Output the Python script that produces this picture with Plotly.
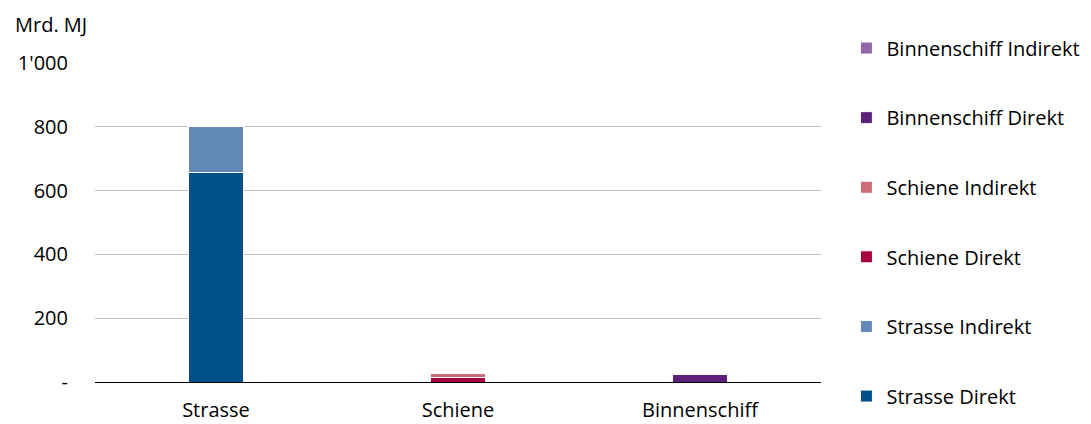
import plotly.graph_objects as go

# Categories and stacked series (Mrd. MJ)
categories = ["Strasse", "Schiene", "Binnenschiff"]
series_names = [
    "Strasse Direkt", "Strasse Indirekt",
    "Schiene Direkt", "Schiene Indirekt",
    "Binnenschiff Direkt", "Binnenschiff Indirekt",
]
strasse_direkt = [658, None, None]
strasse_indirekt = [142, None, None]
schiene_direkt = [None, 14, None]
schiene_indirekt = [None, 14, None]
binnenschiff_direkt = [None, None, 22]
binnenschiff_indirekt = [None, None, 6]

tick_values = [0, 200, 400, 600, 800, 1000]
tick_labels = ["-", "200", "400", "600", "800", "1'000"]

series_values = [
    strasse_direkt, strasse_indirekt,
    schiene_direkt, schiene_indirekt,
    binnenschiff_direkt, binnenschiff_indirekt,
]
colors = ["#004f88", "#6389b9", "#a8003e", "#cd6b76", "#5c2078", "#9167aa"]

FONT = "Open Sans"
SIZE = 20

fig = go.Figure()
n = len(series_names)
for i, (name, vals, col) in enumerate(zip(series_names, series_values, colors)):
    fig.add_trace(go.Bar(
        x=categories, y=vals, name=name, legendgroup=name,
        legendrank=n - i,
        marker=dict(color=col, line=dict(color="white", width=1)),
        width=0.225,
    ))

fig.update_layout(
    barmode="stack",
    width=1091, height=424,
    margin=dict(l=95, r=270, t=63, b=42, autoexpand=False),
    paper_bgcolor="white", plot_bgcolor="white",
    font=dict(family=FONT, size=SIZE, color="#000000"),
    showlegend=True,
    legend=dict(
        x=1.035, xanchor="left", y=1.108, yanchor="top",
        traceorder="grouped", tracegroupgap=40.6, maxheight=1,
        font=dict(family=FONT, size=SIZE, color="#000000"),
        itemwidth=30,
    ),
    xaxis=dict(
        showgrid=False, showline=False, ticks="", automargin=False,
        tickfont=dict(family=FONT, size=SIZE), ticklabelstandoff=14,
    ),
    yaxis=dict(
        range=[0, 1000], tickvals=tick_values, ticktext=tick_labels,
        showgrid=True, gridcolor="#bfbfbf", gridwidth=1, automargin=False,
        zeroline=True, zerolinecolor="#000000", zerolinewidth=1,
        showline=False, ticks="", ticklabelstandoff=26,
        tickfont=dict(family=FONT, size=SIZE),
    ),
    annotations=[dict(
        text="Mrd. MJ", xref="paper", yref="paper", x=-0.113, y=1.122,
        xanchor="left", yanchor="middle", showarrow=False,
        font=dict(family=FONT, size=SIZE),
    )],
)

fig.write_html("out.html")
